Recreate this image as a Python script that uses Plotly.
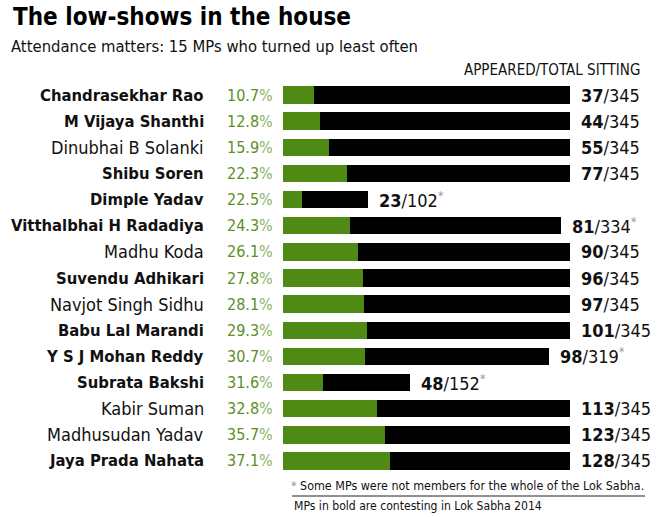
import plotly.graph_objects as go

# ---- data ----
names = ["Chandrasekhar Rao", "M Vijaya Shanthi", "Dinubhai B Solanki", "Shibu Soren",
         "Dimple Yadav", "Vitthalbhai H Radadiya", "Madhu Koda", "Suvendu Adhikari",
         "Navjot Singh Sidhu", "Babu Lal Marandi", "Y S J Mohan Reddy", "Subrata Bakshi",
         "Kabir Suman", "Madhusudan Yadav", "Jaya Prada Nahata"]
contesting = [True, True, False, True, True, True, False, True, False, True, True, True,
              False, False, True]
percent = ["10.7", "12.8", "15.9", "22.3", "22.5", "24.3", "26.1", "27.8", "28.1", "29.3",
           "30.7", "31.6", "32.8", "35.7", "37.1"]
appeared = [37, 44, 55, 77, 23, 81, 90, 96, 97, 101, 98, 48, 113, 123, 128]
total = [345, 345, 345, 345, 102, 334, 345, 345, 345, 345, 319, 152, 345, 345, 345]
partial = [False, False, False, False, True, True, False, False, False, False, True, True,
           False, False, False]

W, H = 665, 517
L, R, T, B = 283, 49, 82, 43
PW, PH = W - L - R, H - T - B

def px(x):
    return (x - L) / PW

def py(y):
    return (H - B - y) / PH

GREEN = "#4e8a14"
GREEN_TXT = "#5b8f26"
FONT = "DejaVu Sans Condensed, Roboto, sans-serif"

idx = list(range(len(names)))
remaining = [t - a for t, a in zip(total, appeared)]

fig = go.Figure()
fig.add_trace(go.Bar(y=idx, x=appeared, orientation="h", marker=dict(color=GREEN, line_width=0),
                     width=0.67, hoverinfo="skip"))
fig.add_trace(go.Bar(y=idx, x=remaining, base=appeared, orientation="h",
                     marker=dict(color="#000000", line_width=0), width=0.67, hoverinfo="skip"))

ann = []
for i in idx:
    if contesting[i]:
        nm, nsize = f"<b>{names[i]}</b>", 16.5
    else:
        nm, nsize = names[i], 18
    ann.append(dict(x=0, y=i, xref="x", yref="y", text=nm, showarrow=False,
                    xanchor="right", yanchor="middle", xshift=-77,
                    font=dict(family=FONT, size=nsize, color="#111111")))
    ann.append(dict(x=0, y=i, xref="x", yref="y",
                    text=f"{percent[i]}<span style='color:#8db466'>%</span>", showarrow=False,
                    xanchor="right", yanchor="middle", xshift=-8,
                    font=dict(family=FONT, size=16, color=GREEN_TXT)))
    star = "<span style='color:#9a9a9a;font-size:17px'><sup>*</sup></span>" if partial[i] else ""
    ann.append(dict(x=total[i], y=i, xref="x", yref="y",
                    text=f"<b>{appeared[i]}</b>/{total[i]}{star}", showarrow=False,
                    xanchor="left", yanchor="middle", xshift=9,
                    font=dict(family=FONT, size=18, color="#111111")))

ann.append(dict(x=px(11), y=py(17), xref="paper", yref="paper",
                text="<b>The low-shows in the house</b>", showarrow=False,
                xanchor="left", yanchor="middle", font=dict(family=FONT, size=24, color="#000000")))
ann.append(dict(x=px(9), y=py(46), xref="paper", yref="paper",
                text="Attendance matters: 15 MPs who turned up least often", showarrow=False,
                xanchor="left", yanchor="middle", font=dict(family=FONT, size=16.5, color="#111111")))
ann.append(dict(x=px(642), y=py(70), xref="paper", yref="paper",
                text="APPEARED/TOTAL SITTING", showarrow=False,
                xanchor="right", yanchor="middle", font=dict(family=FONT, size=15, color="#111111")))
ann.append(dict(x=px(289), y=py(485), xref="paper", yref="paper",
                text="<span style='color:#9a9a9a'>*</span> Some MPs were not members for the whole of the Lok Sabha.",
                showarrow=False, xanchor="left", yanchor="middle",
                font=dict(family=FONT, size=12.4, color="#111111")))
ann.append(dict(x=px(292), y=py(506), xref="paper", yref="paper",
                text="MPs in bold are contesting in Lok Sabha 2014",
                showarrow=False, xanchor="left", yanchor="middle",
                font=dict(family=FONT, size=12.1, color="#111111")))

fig.update_layout(
    width=W, height=H, margin=dict(l=L, r=R, t=T, b=B, pad=0),
    barmode="stack", showlegend=False,
    paper_bgcolor="white", plot_bgcolor="white",
    xaxis=dict(range=[0, 400], visible=False, fixedrange=True),
    yaxis=dict(range=[len(names) - 0.5, -0.5], visible=False, fixedrange=True),
    annotations=ann,
    shapes=[dict(type="line", xref="paper", yref="paper", x0=px(292), x1=px(645),
                 y0=py(496), y1=py(496), line=dict(color="#222222", width=1))],
)

fig.write_html("out.html", config={"displayModeBar": False})
